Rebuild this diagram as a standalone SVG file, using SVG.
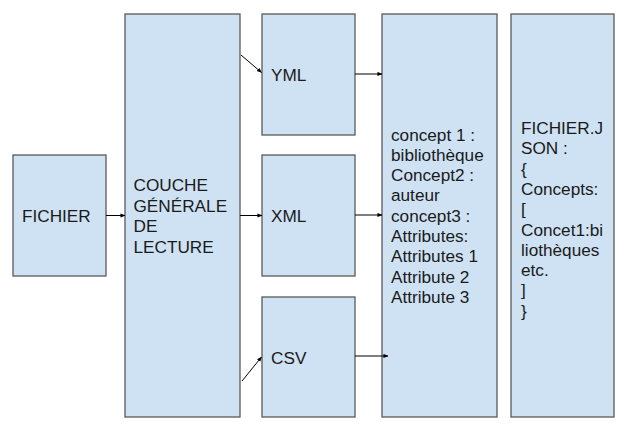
<svg xmlns="http://www.w3.org/2000/svg" width="624" height="426" viewBox="0 0 624 426">
<style>
.box{fill:#cfe2f3;stroke:#595959;stroke-width:1.3}
.t{font-family:"Liberation Sans",Arial,sans-serif;font-size:17.2px;fill:#1a1a1a}
.c{stroke:#000;stroke-width:1;fill:none;marker-end:url(#ah)}
</style>
<defs>
<marker id="ah" viewBox="0 0 6 6" refX="5.5" refY="3" markerWidth="5" markerHeight="5" markerUnits="userSpaceOnUse" orient="auto">
<path d="M0,0.5 L6,3 L0,5.5 Z" fill="#000"/>
</marker>
</defs>
<rect width="624" height="426" fill="#fff"/>
<g id="fichier"><rect class="box" x="13" y="155" width="93" height="121"/><text class="t" x="22" y="222">FICHIER</text></g>
<g id="couche"><rect class="box" x="125" y="14" width="115" height="403"/><text class="t" x="133.5"><tspan x="133.5" y="191">COUCHE</tspan><tspan x="133.5" y="211.5">GÉNÉRALE</tspan><tspan x="133.5" y="232">DE</tspan><tspan x="133.5" y="252.5">LECTURE</tspan></text></g>
<g id="yml"><rect class="box" x="262" y="14" width="93" height="121"/><text class="t" x="271" y="81">YML</text></g>
<g id="xml"><rect class="box" x="262" y="155" width="93" height="121"/><text class="t" x="271" y="222">XML</text></g>
<g id="csv"><rect class="box" x="262" y="297" width="93" height="120"/><text class="t" x="271" y="364">CSV</text></g>
<g id="concepts"><rect class="box" x="382" y="14" width="115" height="403"/><text class="t"><tspan x="391" y="140.5">concept 1 :</tspan><tspan x="391" y="160.8">bibliothèque</tspan><tspan x="391" y="181.1">Concept2 :</tspan><tspan x="391" y="201.4">auteur</tspan><tspan x="391" y="221.7">concept3 :</tspan><tspan x="391" y="242">Attributes:</tspan><tspan x="391" y="262.3">Attributes 1</tspan><tspan x="391" y="282.6">Attribute 2</tspan><tspan x="391" y="302.9">Attribute 3</tspan></text></g>
<g id="json"><rect class="box" x="511" y="14" width="103" height="403"/><text class="t"><tspan x="521" y="134">FICHIER.J</tspan><tspan x="521" y="154.3">SON :</tspan><tspan x="521" y="174.6">{</tspan><tspan x="521" y="194.9">Concepts:</tspan><tspan x="521" y="215.2">[</tspan><tspan x="521" y="235.5">Concet1:bi</tspan><tspan x="521" y="255.8">liothèques</tspan><tspan x="521" y="276.1">etc.</tspan><tspan x="521" y="296.4">]</tspan><tspan x="521" y="316.7">}</tspan></text></g>
<g id="connectors">
<line class="c" x1="106" y1="215.5" x2="125" y2="215.5"/>
<line class="c" x1="241" y1="55" x2="261.5" y2="72.5"/>
<line class="c" x1="240" y1="215.5" x2="262" y2="215.5"/>
<line class="c" x1="242" y1="381" x2="261.5" y2="357"/>
<line class="c" x1="355" y1="74" x2="382" y2="74"/>
<line class="c" x1="355" y1="215" x2="382" y2="215"/>
<line class="c" x1="355" y1="356" x2="388" y2="356"/>
</g>
</svg>
